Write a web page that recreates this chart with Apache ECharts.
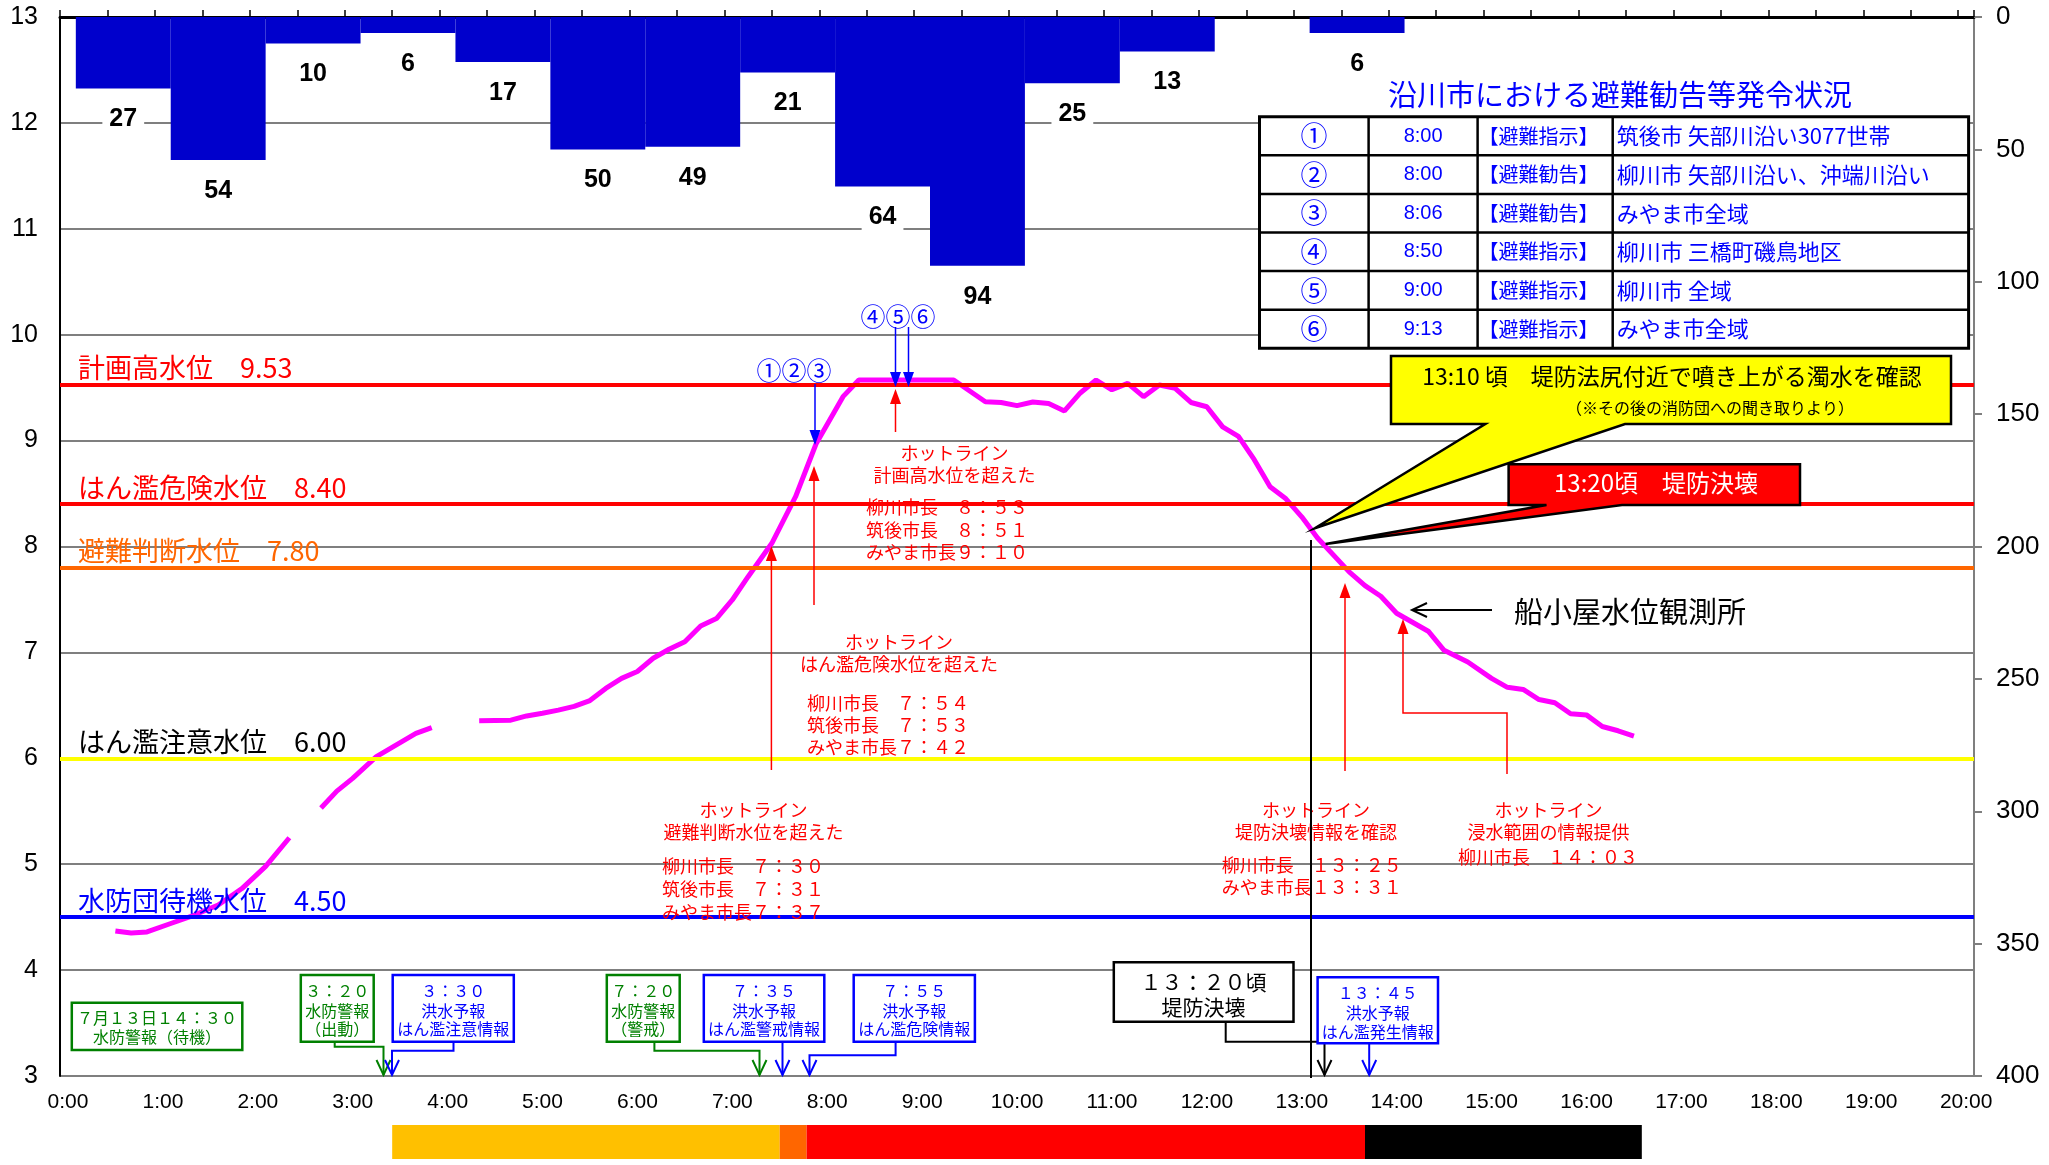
<!DOCTYPE html>
<html>
<head>
<meta charset="utf-8">
<script src="https://cdn.jsdelivr.net/npm/echarts@6.0.0/dist/echarts.min.js"></script>
<style>
html,body{margin:0;padding:0;background:#fff}
#main{width:2049px;height:1165px}
</style>
</head>
<body>
<div id="main"></div>
<script>
// hourly rainfall (mm), each block lasts one hour from its start time
var rainStart = ['0:10','1:10','2:10','3:10','4:10','5:10','6:10','7:10','8:10','9:10','10:10','11:10','12:10','13:10'];
var rainfall  = [27, 54, 10, 6, 17, 50, 49, 21, 64, 94, 25, 13, 0, 6];

// water level at 船小屋 (m), null = missing
var wlTime = ['0:35','0:45','0:55','1:10','1:25','1:40','1:55','2:10','2:25','2:35','2:45','2:55','3:05','3:20','3:45','3:55','4:10',
  '4:25','4:45','4:55','5:05','5:15','5:25','5:35','5:45','5:55','6:05','6:15','6:25','6:35','6:45','6:55','7:05','7:15','7:30',
  '7:45','7:58','8:15','8:25','9:25','9:45','9:55','10:05','10:15','10:25','10:35','10:45','10:55','11:05','11:15','11:25','11:35',
  '11:45','11:55','12:05','12:15','12:25','12:35','12:45','12:55','13:05','13:15','13:35','13:45','13:55','14:05','14:25','14:35',
  '14:50','15:05','15:15','15:25','15:35','15:45','15:55','16:05','16:15','16:25','16:35'];
var wlLevel = [4.37,4.35,4.36,4.44,4.52,4.615,4.77,4.98,5.25,null,5.53,5.69,5.81,6.015,6.236,6.29,null,
  6.355,6.36,6.40,6.425,6.455,6.49,6.545,6.66,6.755,6.82,6.945,7.03,7.10,7.25,7.32,7.495,7.715,8.03,
  8.47,8.97,9.415,9.572,9.572,9.367,9.36,9.33,9.365,9.35,9.28,9.45,9.572,9.48,9.54,9.415,9.525,
  9.494,9.36,9.32,9.13,9.04,8.82,8.565,8.45,8.28,8.08,7.76,7.63,7.53,7.37,7.20,7.02,
  6.91,6.755,6.67,6.65,6.555,6.525,6.42,6.41,6.30,6.26,6.21];

// reference water levels
var levelNames  = ['計画高水位','はん濫危険水位','避難判断水位','はん濫注意水位','水防団待機水位'];
var levelValues = [9.53, 8.40, 7.80, 6.00, 4.50];
var levelLineColors = ['#FF0000','#FF0000','#FF6600','#FFFF00','#0000FF'];
var levelTextColors = ['#FF0000','#FF0000','#FF6600','#000000','#0000FF'];

// flood forecast stage band
var stageStart = ['3:30','7:35','7:52','13:45'];
var stageEnd   = ['7:35','7:52','13:45','16:40'];
var stageColors = ['#FFC000','#FF6600','#FF0000','#000000'];

// evacuation order table
var tableNo   = ['①','②','③','④','⑤','⑥'];
var tableTime = ['8:00','8:00','8:06','8:50','9:00','9:13'];
var tableType = ['【避難指示】','【避難勧告】','【避難勧告】','【避難指示】','【避難指示】','【避難指示】'];
var tableArea = ['筑後市 矢部川沿い3077世帯','柳川市 矢部川沿い、沖端川沿い','みやま市全域','柳川市 三橋町磯鳥地区','柳川市 全域','みやま市全域'];

var JP = "'Noto Sans CJK JP', sans-serif";
var NUM = "'Liberation Sans', Arial, sans-serif";
var BLUE = '#0000FF', RED = '#FF0000', GREEN = '#008000';

function toHour(s) {
  var p = s.split(':');
  return +p[0] + (+p[1]) / 60;
}

var rainData = rainStart.map(function (s, i) {
  return [toHour(s), toHour(s) + 1, rainfall[i]];
});
var wlData = wlTime.map(function (t, i) {
  return [toHour(t), wlLevel[i] == null ? '-' : wlLevel[i]];
});
var stageData = stageStart.map(function (s, i) {
  return [toHour(s), toHour(stageEnd[i]), i];
});

// ---- annotation helpers (drawn in pixel space) ----
var g = [];
function T(x, y, text, size, color, align, weight) {
  g.push({
    type: 'text', z: 100,
    style: {
      text: text, x: x, y: y,
      font: (weight || 'normal') + ' ' + size + 'px ' + JP,
      fill: color,
      align: align || 'center', verticalAlign: 'middle',
      textAlign: align || 'center', textVerticalAlign: 'middle'
    }
  });
}
function L(pts, color, lw) {
  g.push({type: 'polyline', z: 100, shape: {points: pts}, style: {stroke: color, lineWidth: lw, fill: null}});
}
function R(x, y, w, h, color, lw) {
  g.push({type: 'rect', z: 100, shape: {x: x, y: y, width: w, height: h}, style: {fill: '#fff', stroke: color, lineWidth: lw}});
}
// arrow along polyline, head at the last point
function arrow(pts, color, lw, open) {
  var n = pts.length;
  var a = pts[n - 2], b = pts[n - 1];
  var ang = Math.atan2(b[1] - a[1], b[0] - a[0]);
  var hl = 15, hw = open ? 7 : 5.5;
  var bx = b[0] - hl * Math.cos(ang), by = b[1] - hl * Math.sin(ang);
  var s1 = [bx + hw * Math.sin(ang), by - hw * Math.cos(ang)];
  var s2 = [bx - hw * Math.sin(ang), by + hw * Math.cos(ang)];
  if (open) {
    L(pts, color, lw);
    L([s1, b, s2], color, lw);
  } else {
    var shaft = pts.slice(0, n - 1).concat([[bx, by]]);
    L(shaft, color, lw);
    g.push({type: 'polygon', z: 100, shape: {points: [b, s1, s2]}, style: {fill: color}});
  }
}

// table
var tblX = [1259.5, 1368.6, 1477.6, 1612.7, 1968.6];
var tblTop = 116.7, rowH = 38.6;
T(1620, 95, '沿川市における避難勧告等発令状況', 29, BLUE);
g.push({type: 'rect', z: 100, shape: {x: tblX[0], y: tblTop, width: tblX[4] - tblX[0], height: rowH * 6},
  style: {fill: '#fff', stroke: '#000', lineWidth: 3}});
for (var i = 1; i < 6; i++) L([[tblX[0], tblTop + i * rowH], [tblX[4], tblTop + i * rowH]], '#000', 2.5);
for (var j = 1; j < 4; j++) L([[tblX[j], tblTop], [tblX[j], tblTop + 6 * rowH]], '#000', 2.5);
tableNo.forEach(function (no, i) {
  var cy = tblTop + (i + 0.5) * rowH;
  T((tblX[0] + tblX[1]) / 2, cy, no, 27, BLUE);
  g.push({type: 'text', z: 100, style: {text: tableTime[i], x: (tblX[1] + tblX[2]) / 2, y: cy, font: '20px ' + NUM, fill: BLUE,
    align: 'center', verticalAlign: 'middle', textAlign: 'center', textVerticalAlign: 'middle'}});
  T(tblX[2] + 1, cy, tableType[i], 20, BLUE, 'left');
  T(tblX[3] + 4, cy, tableArea[i], 22, BLUE, 'left');
});

// evacuation markers and hotline arrows
T(794, 370, '①②③', 25, BLUE);
arrow([[815, 384], [815, 445]], BLUE, 1.5);
T(898, 316, '④⑤⑥', 25, BLUE);
arrow([[895.5, 327], [895.5, 387]], BLUE, 1.5);
arrow([[908.5, 327], [908.5, 387]], BLUE, 1.5);
arrow([[895.5, 432], [895.5, 389]], RED, 1.5);
arrow([[814, 605], [814, 466]], RED, 1.5);
arrow([[771.4, 770], [771.4, 546]], RED, 1.5);
arrow([[1345, 771], [1345, 583]], RED, 1.5);
arrow([[1507, 774], [1507, 713], [1403, 713], [1403, 619]], RED, 1.5);

// hotline texts
T(954.5, 453, 'ホットライン', 18, RED);
T(954.5, 475, '計画高水位を超えた', 18, RED);
T(866, 506.7, '柳川市長　８：５３', 18, RED, 'left');
T(866, 530, '筑後市長　８：５１', 18, RED, 'left');
T(866, 551.7, 'みやま市長９：１０', 18, RED, 'left');

T(899, 641.7, 'ホットライン', 18, RED);
T(899, 664, 'はん濫危険水位を超えた', 18, RED);
T(807, 702.7, '柳川市長　７：５４', 18, RED, 'left');
T(807, 725, '筑後市長　７：５３', 18, RED, 'left');
T(807, 746.7, 'みやま市長７：４２', 18, RED, 'left');

T(753.5, 810, 'ホットライン', 18, RED);
T(753.5, 831.7, '避難判断水位を超えた', 18, RED);
T(662, 866, '柳川市長　７：３０', 18, RED, 'left');
T(662, 889.3, '筑後市長　７：３１', 18, RED, 'left');
T(662, 911.7, 'みやま市長７：３７', 18, RED, 'left');

T(1316, 810, 'ホットライン', 18, RED);
T(1316, 831.7, '堤防決壊情報を確認', 18, RED);
T(1221.7, 865, '柳川市長　１３：２５', 18, RED, 'left');
T(1221.7, 887.3, 'みやま市長１３：３１', 18, RED, 'left');

T(1548.5, 810, 'ホットライン', 18, RED);
T(1548.5, 831.7, '浸水範囲の情報提供', 18, RED);
T(1458, 857.3, '柳川市長　１４：０３', 18, RED, 'left');

// breach time line
L([[1311, 540], [1311, 1078]], '#000', 2);

// callouts
g.push({type: 'polygon', z: 100, shape: {points: [[1391, 356], [1951, 356], [1951, 424], [1625, 424], [1314.8, 528.3], [1485.3, 424], [1391, 424]]},
  style: {fill: '#FFFF00', stroke: '#000', lineWidth: 2.5}});
T(1672, 376.7, '13:10 頃　堤防法尻付近で噴き上がる濁水を確認', 23, '#000');
T(1710, 408, '（※その後の消防団への聞き取りより）', 16, '#000');
g.push({type: 'polygon', z: 100, shape: {points: [[1508.6, 464.3], [1800, 464.3], [1800, 505], [1622, 505], [1325.6, 544], [1546.5, 505], [1508.6, 505]]},
  style: {fill: '#FF0000', stroke: '#000', lineWidth: 2.5}});
T(1656, 483, '13:20頃　堤防決壊', 24, '#fff');

// station label
arrow([[1492, 610], [1412, 610]], '#000', 2, true);
T(1514, 611.7, '船小屋水位観測所', 29, '#000', 'left');

// warning boxes at the bottom
R(71.8, 1002.7, 170.5, 47.3, GREEN, 2.5);
T(157, 1018.3, '７月１３日１４：３０', 16, GREEN);
T(157, 1037.3, '水防警報（待機）', 16, GREEN);

R(300.8, 975, 72.9, 66.7, GREEN, 2.5);
T(337.3, 990.7, '３：２０', 16, GREEN);
T(337.3, 1010.7, '水防警報', 16, GREEN);
T(337.3, 1029.3, '（出動）', 16, GREEN);
arrow([[334.7, 1041.7], [334.7, 1046.7], [383.5, 1046.7], [383.5, 1075]], GREEN, 2, true);

R(392.7, 975, 121.1, 66.7, BLUE, 2.5);
T(453.2, 990.7, '３：３０', 16, BLUE);
T(453.2, 1010.7, '洪水予報', 16, BLUE);
T(453.2, 1029.3, 'はん濫注意情報', 16, BLUE);
arrow([[453.5, 1041.7], [453.5, 1050.7], [392, 1050.7], [392, 1075]], BLUE, 2, true);

R(606.8, 975, 72.9, 66.7, GREEN, 2.5);
T(643.2, 990.7, '７：２０', 16, GREEN);
T(643.2, 1010.7, '水防警報', 16, GREEN);
T(643.2, 1029.3, '（警戒）', 16, GREEN);
arrow([[654.4, 1041.7], [654.4, 1050.7], [759.5, 1050.7], [759.5, 1075]], GREEN, 2, true);

R(703.8, 975, 120.5, 66.7, BLUE, 2.5);
T(764, 990.7, '７：３５', 16, BLUE);
T(764, 1010.7, '洪水予報', 16, BLUE);
T(764, 1029.3, 'はん濫警戒情報', 16, BLUE);
arrow([[782.5, 1041.7], [782.5, 1075]], BLUE, 2, true);

R(853.7, 975, 121.2, 66.7, BLUE, 2.5);
T(914.3, 990.7, '７：５５', 16, BLUE);
T(914.3, 1010.7, '洪水予報', 16, BLUE);
T(914.3, 1029.3, 'はん濫危険情報', 16, BLUE);
arrow([[895.6, 1041.7], [895.6, 1055.3], [809.5, 1055.3], [809.5, 1075]], BLUE, 2, true);

R(1113.8, 962.3, 179.7, 59.4, '#000', 2.5);
T(1203.6, 981.7, '１３：２０頃', 21, '#000');
T(1203.6, 1006.7, '堤防決壊', 21, '#000');
arrow([[1225.7, 1021.7], [1225.7, 1041.7], [1324.5, 1041.7], [1324.5, 1075]], '#000', 2, true);

R(1317.6, 977.3, 120.4, 66, BLUE, 2.5);
T(1377.8, 993, '１３：４５', 16, BLUE);
T(1377.8, 1013, '洪水予報', 16, BLUE);
T(1377.8, 1031.7, 'はん濫発生情報', 16, BLUE);
arrow([[1369.2, 1043.3], [1369.2, 1075]], BLUE, 2, true);

var chart = echarts.init(document.getElementById('main'));
var xMax = 20 + 10 / 60;

var option = {
  animation: false,
  backgroundColor: '#fff',
  grid: [
    {left: 60, top: 17, width: 1914, height: 1059},
    {left: 60, top: 1125, width: 1914, height: 34}
  ],
  xAxis: [
    {
      type: 'value', gridIndex: 0, min: 0, max: xMax, interval: 0.5,
      axisLine: {lineStyle: {color: '#000', width: 3}},
      axisTick: {inside: true, length: 7, lineStyle: {color: '#000', width: 1.5}},
      axisLabel: {
        fontSize: 21, fontFamily: NUM, color: '#000', margin: 16, padding: [0, 0, 0, 16],
        formatter: function (v) {
          return Math.abs(v - Math.round(v)) < 1e-6 ? Math.round(v) + ':00' : '';
        }
      },
      splitLine: {show: false}
    },
    {type: 'value', gridIndex: 1, min: 0, max: xMax, show: false}
  ],
  yAxis: [
    {
      type: 'value', gridIndex: 0, min: 3, max: 13, interval: 1, position: 'left',
      axisLine: {show: true, lineStyle: {color: '#000', width: 2}},
      axisTick: {show: false},
      axisLabel: {fontSize: 25, fontFamily: NUM, color: '#000', margin: 22},
      splitLine: {lineStyle: {color: '#7f7f7f', width: 2}}
    },
    {
      type: 'value', gridIndex: 0, min: 0, max: 400, interval: 50, inverse: true, position: 'right',
      axisLine: {show: true, lineStyle: {color: '#7f7f7f', width: 2}},
      axisTick: {show: true, length: 8, lineStyle: {color: '#7f7f7f', width: 2}},
      axisLabel: {fontSize: 26, fontFamily: NUM, color: '#000', margin: 22},
      splitLine: {show: false}
    },
    {type: 'value', gridIndex: 1, min: 0, max: 1, show: false}
  ],
  series: [
    {
      name: 'rain', type: 'custom', xAxisIndex: 0, yAxisIndex: 1, z: 2,
      encode: {x: [0, 1], y: 2},
      data: rainData,
      renderItem: function (params, api) {
        var s = api.value(0), e = api.value(1), v = api.value(2);
        var p0 = api.coord([s, 0]);
        var p1 = api.coord([e, v]);
        var kids = [{
          type: 'rect',
          shape: {x: p0[0], y: p0[1], width: p1[0] - p0[0], height: p1[1] - p0[1]},
          style: {fill: '#0000CC'}
        }];
        if (v > 0) {
          kids.push({
            type: 'text',
            style: {
              text: String(v), x: (p0[0] + p1[0]) / 2, y: p1[1] + 31,
              font: 'bold 25px ' + NUM, fill: '#000',
              align: 'center', verticalAlign: 'middle', textAlign: 'center', textVerticalAlign: 'middle',
              backgroundColor: '#fff', padding: [2, 7]
            }
          });
        }
        return {type: 'group', children: kids};
      }
    },
    {
      name: 'levels', type: 'line', xAxisIndex: 0, yAxisIndex: 0, z: 3, data: [],
      markLine: {
        silent: true, symbol: ['none', 'none'], animation: false,
        data: levelValues.map(function (v, i) {
          return {
            yAxis: v,
            lineStyle: {color: levelLineColors[i], width: 4, type: 'solid'},
            label: {
              show: true, position: 'insideStartTop', distance: [18, 3],
              formatter: levelNames[i] + '　' + v.toFixed(2),
              color: levelTextColors[i], fontSize: 27, fontFamily: JP
            }
          };
        })
      }
    },
    {
      name: '船小屋', type: 'line', xAxisIndex: 0, yAxisIndex: 0, z: 4,
      data: wlData, showSymbol: false, connectNulls: false,
      lineStyle: {color: '#FF00FF', width: 5}
    },
    {
      name: 'stage', type: 'custom', xAxisIndex: 1, yAxisIndex: 2,
      encode: {x: [0, 1]},
      data: stageData,
      renderItem: function (params, api) {
        var p0 = api.coord([api.value(0), 1]);
        var p1 = api.coord([api.value(1), 0]);
        return {
          type: 'rect',
          shape: {x: p0[0], y: p0[1], width: p1[0] - p0[0], height: p1[1] - p0[1]},
          style: {fill: stageColors[api.value(2)]}
        };
      }
    }
  ],
  graphic: g
};
chart.setOption(option);
</script>
</body>
</html>
